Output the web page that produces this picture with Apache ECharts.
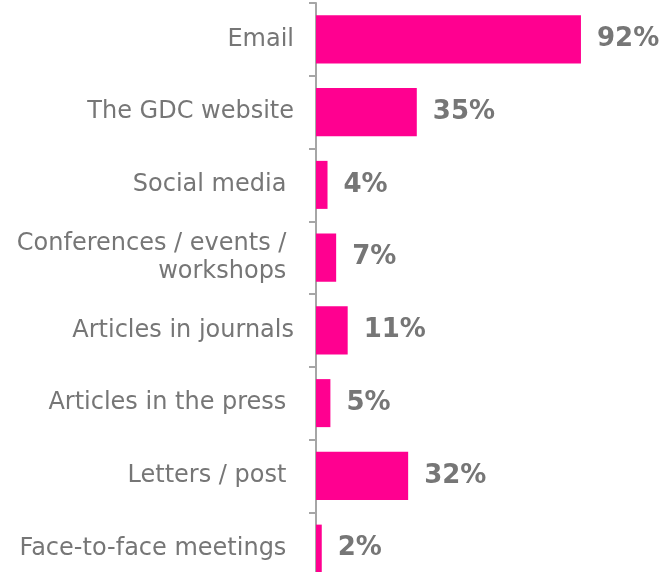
<!DOCTYPE html>
<html>
<head>
<meta charset="utf-8">
<script src="https://cdn.jsdelivr.net/npm/echarts@6/dist/echarts.min.js"></script>
<style>
  html, body { margin: 0; padding: 0; background: #fff; }
  #chart { width: 664px; height: 572px; }
</style>
</head>
<body>
<div id="chart"></div>
<script>
// Channels used to receive information, share of respondents (%)
const categories = [
  'Email',
  'The GDC website',
  'Social media ',
  'Conferences / events / \nworkshops ',
  'Articles in journals',
  'Articles in the press ',
  'Letters / post ',
  'Face-to-face meetings '
];
const shares = [92, 35, 4, 7, 11, 5, 32, 2];

const chart = echarts.init(document.getElementById('chart'), null, { renderer: 'canvas' });

chart.setOption({
  animation: false,
  grid: {
    left: 316, top: 3, width: 288, height: 582,
    containLabel: false,
    outerBoundsMode: 'none'
  },
  xAxis: {
    type: 'value',
    min: 0,
    max: 100,
    show: false
  },
  yAxis: {
    type: 'category',
    inverse: true,
    data: categories,
    axisLine: { show: true, lineStyle: { color: '#a6a6a6', width: 2 } },
    axisTick: { show: true, length: 7, lineStyle: { color: '#a6a6a6', width: 2 } },
    axisLabel: {
      margin: 22,
      color: '#767676',
      fontFamily: 'DejaVu Sans',
      fontSize: 24,
      lineHeight: 28,
      align: 'right'
    }
  },
  series: [{
    type: 'bar',
    data: shares,
    barCategoryGap: '34%',
    itemStyle: { color: '#ff0090' },
    label: {
      show: true,
      position: 'right',
      distance: 16,
      formatter: '{c}%',
      color: '#767676',
      fontFamily: 'DejaVu Sans',
      fontWeight: 'bold',
      fontSize: 26
    }
  }]
});
</script>
</body>
</html>
